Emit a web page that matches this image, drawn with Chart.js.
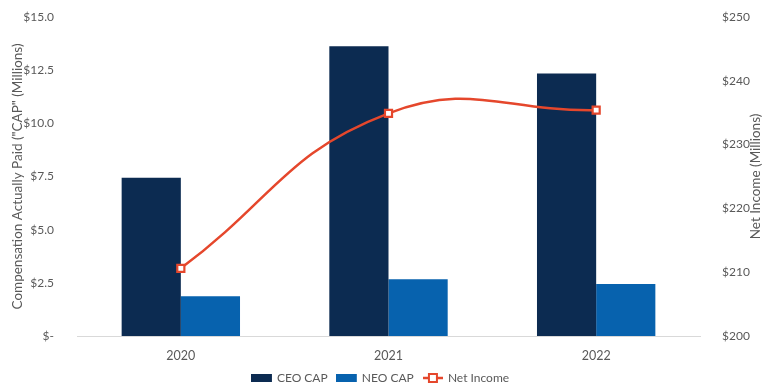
<!DOCTYPE html>
<html>
<head>
<meta charset="utf-8">
<script src="https://cdn.jsdelivr.net/npm/chart.js@4/dist/chart.umd.min.js"></script>
<style>
  html, body { margin: 0; padding: 0; background: #fff; }
  #wrap { width: 762px; height: 388px; }
</style>
</head>
<body>
<div id="wrap"><canvas id="cap"></canvas></div>
<script>
const years = ['2020', '2021', '2022'];
const ceoCap = [7.44, 13.63, 12.34];
const neoCap = [1.87, 2.67, 2.45];
const netIncome = [210.6, 234.9, 235.4];

const leftTitle = 'Compensation Actually Paid ("CAP" (Millions)';
const rightTitle = 'Net Income (Millions)';

const NAVY = '#0c2b51';
const BLUE = '#0762ae';
const RED = '#e5472c';
const GREY = '#595959';
const FONT = 'Lato, "Open Sans", sans-serif';

// legend icons
function barIcon(color) {
  const c = document.createElement('canvas');
  c.width = 22; c.height = 8;
  const g = c.getContext('2d');
  g.fillStyle = color;
  g.fillRect(0, 0, 21, 8);
  return c;
}
function lineIcon() {
  const c = document.createElement('canvas');
  c.width = 20; c.height = 12;
  const g = c.getContext('2d');
  g.strokeStyle = RED;
  g.lineWidth = 2.5;
  g.beginPath(); g.moveTo(0, 6); g.lineTo(20, 6); g.stroke();
  g.fillStyle = '#fff';
  g.fillRect(6, 2, 8, 8);
  g.lineWidth = 2;
  g.strokeRect(6, 2, 8, 8);
  return c;
}

const rightTitlePlugin = {
  id: 'rightTitle',
  afterDraw(chart) {
    const { ctx, chartArea } = chart;
    ctx.save();
    ctx.translate(756, (chartArea.top + chartArea.bottom) / 2);
    ctx.rotate(-Math.PI / 2);
    ctx.font = '13.5px ' + FONT;
    ctx.fillStyle = GREY;
    ctx.textAlign = 'center';
    ctx.textBaseline = 'middle';
    ctx.fillText(rightTitle, 0, 0);
    ctx.restore();
  }
};

new Chart(document.getElementById('cap'), {
  type: 'bar',
  data: {
    labels: years,
    datasets: [
      {
        type: 'line', label: 'Net Income', data: netIncome, yAxisID: 'y1', order: 0,
        borderColor: RED, borderWidth: 2.5, tension: 0.45,
        pointStyle: 'rect', pointRadius: 5, pointBorderWidth: 2.2,
        pointBackgroundColor: '#fff', pointBorderColor: RED
      },
      { label: 'CEO CAP', data: ceoCap, backgroundColor: NAVY, yAxisID: 'y', order: 1,
        categoryPercentage: 0.57, barPercentage: 1.0 },
      { label: 'NEO CAP', data: neoCap, backgroundColor: BLUE, yAxisID: 'y', order: 1,
        categoryPercentage: 0.57, barPercentage: 1.0 }
    ]
  },
  options: {
    responsive: true,
    maintainAspectRatio: false,
    animation: false,
    layout: { padding: { top: 17, right: 0, bottom: -6, left: 0 } },
    plugins: {
      tooltip: { enabled: false },
      legend: {
        position: 'bottom',
        labels: {
          usePointStyle: true,
          pointStyleWidth: 18,
          padding: 4,
          color: GREY,
          font: { family: FONT, size: 12 },
          generateLabels: () => [
            { text: 'CEO CAP  ', pointStyle: barIcon(NAVY), fontColor: GREY, datasetIndex: 1, lineWidth: 0 },
            { text: 'NEO CAP  ', pointStyle: barIcon(BLUE), fontColor: GREY, datasetIndex: 2, lineWidth: 0 },
            { text: 'Net Income', pointStyle: lineIcon(), fontColor: GREY, datasetIndex: 0, lineWidth: 0 }
          ]
        }
      }
    },
    scales: {
      x: {
        offset: true,
        grid: { display: false },
        border: { color: '#d9d9d9', width: 1 },
        afterFit: s => { s.height = 32; },
        ticks: { color: GREY, font: { family: FONT, size: 12.5 }, padding: 4 }
      },
      y: {
        position: 'left',
        min: 0, max: 15,
        grid: { display: false },
        border: { display: false },
        afterFit: s => { s.width = 77; s.paddingTop = 0; },
        ticks: {
          stepSize: 2.5, padding: 15, color: GREY, font: { family: FONT, size: 12 },
          callback: v => v === 0 ? '$-' : '$' + v.toFixed(1)
        },
        title: { display: true, text: leftTitle, color: GREY, font: { family: FONT, size: 13.5 }, padding: { top: 10 } }
      },
      y1: {
        position: 'right',
        min: 200, max: 250,
        grid: { display: false },
        border: { display: false },
        afterFit: s => { s.width = 62; s.paddingTop = 0; },
        ticks: {
          stepSize: 10, padding: 14, color: GREY, font: { family: FONT, size: 12 },
          callback: v => '$' + v
        }
      }
    }
  },
  plugins: [rightTitlePlugin]
});
</script>
</body>
</html>
